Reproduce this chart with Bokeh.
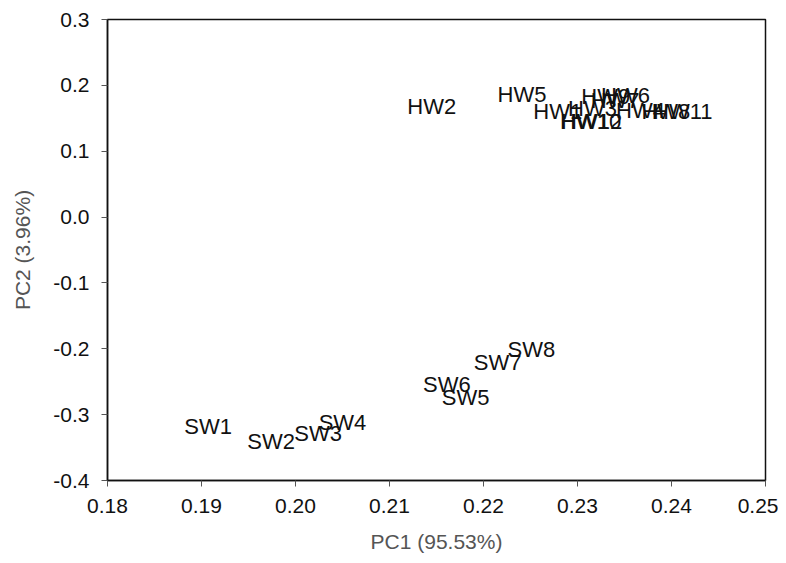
from bokeh.plotting import figure
from bokeh.models import ColumnDataSource, Range1d, FixedTicker, CustomJSTickFormatter
from bokeh.core.properties import value
from bokeh.embed import file_html
from bokeh.resources import INLINE

# sample labels and PCA scores
labels = ["HW1", "HW2", "HW3", "HW4", "HW5", "HW6", "HW7", "HW8", "HW9", "HW10", "HW11", "HW12",
          "SW1", "SW2", "SW3", "SW4", "SW5", "SW6", "SW7", "SW8"]
pc1 = [0.2279, 0.2145, 0.2316, 0.2367, 0.2241, 0.2351, 0.2340, 0.2394, 0.2330, 0.2314, 0.2412, 0.2315,
       0.1907, 0.1974, 0.2024, 0.2050, 0.2181, 0.2161, 0.2215, 0.2251]
pc2 = [0.1606, 0.1680, 0.1650, 0.1621, 0.1860, 0.1848, 0.1773, 0.1606, 0.1833, 0.1455, 0.1606, 0.1450,
       -0.318, -0.341, -0.329, -0.312, -0.274, -0.2545, -0.221, -0.2015]

x_ticks = [0.18, 0.19, 0.20, 0.21, 0.22, 0.23, 0.24, 0.25]
y_ticks = [-0.4, -0.3, -0.2, -0.1, 0.0, 0.1, 0.2, 0.3]
x_title = "PC1 (95.53%)"
y_title = "PC2 (3.96%)"

src = ColumnDataSource(dict(x=pc1, y=pc2, label=labels))

p = figure(width=778, height=555, output_backend="svg", toolbar_location=None,
           x_range=Range1d(0.18, 0.25), y_range=Range1d(-0.4, 0.3),
           min_border_left=107, min_border_right=13, min_border_top=19, min_border_bottom=74)

p.text(x="x", y="y", text="label", source=src, text_align="center", text_baseline="middle",
       text_font=value("Liberation Sans"), text_font_size="22px", text_color="#111111")

p.xgrid.visible = False
p.ygrid.visible = False
p.outline_line_color = "#111111"
p.outline_line_width = 1.5
p.background_fill_color = "white"
p.border_fill_color = "white"

p.xaxis.ticker = FixedTicker(ticks=x_ticks)
p.yaxis.ticker = FixedTicker(ticks=y_ticks)
p.xaxis.formatter = CustomJSTickFormatter(code="return tick.toFixed(2);")
p.yaxis.formatter = CustomJSTickFormatter(code="return tick.toFixed(1);")

for ax in (p.xaxis, p.yaxis):
    ax.axis_line_color = "#111111"
    ax.axis_line_width = 1.5
    ax.major_tick_line_color = "#555555"
    ax.major_tick_in = 0
    ax.major_tick_out = 6
    ax.minor_tick_line_color = None
    ax.major_label_text_font = "Liberation Sans"
    ax.major_label_text_font_size = "21px"
    ax.major_label_text_color = "#111111"
    ax.major_label_standoff = 12
    ax.axis_label_text_font = "Liberation Sans"
    ax.axis_label_text_font_size = "21px"
    ax.axis_label_text_font_style = "normal"
    ax.axis_label_text_color = "#555555"

p.xaxis.axis_label = x_title
p.yaxis.axis_label = y_title
p.xaxis.axis_label_standoff = 14
p.yaxis.axis_label_standoff = 16

open("out.html", "w").write(file_html(p, INLINE))
